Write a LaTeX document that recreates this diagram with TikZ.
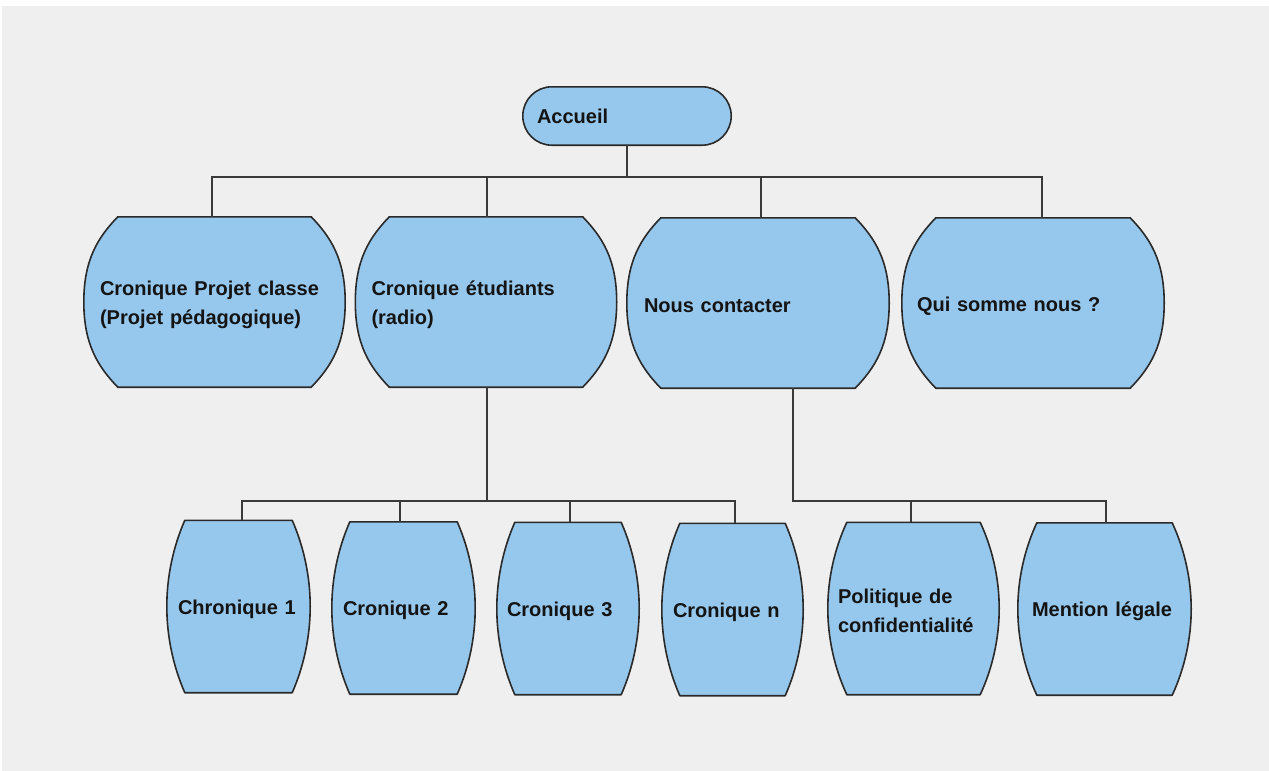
\documentclass[tikz,border=0pt]{standalone}
\usepackage{fontspec}
\setmainfont{Liberation Sans}
\usetikzlibrary{calc}
\pgfdeclarelayer{background}
\pgfsetlayers{background,main}
\definecolor{bgray}{HTML}{EFEFEF}
\definecolor{boxfill}{HTML}{96C7EC}
\definecolor{boxline}{HTML}{2A2A2A}
\definecolor{linkcol}{HTML}{3A3A3A}
\definecolor{txtcol}{HTML}{141414}
\newcommand{\lowstrut}{\rule{0pt}{20pt}}
\begin{document}
\begin{tikzpicture}[x=1pt,y=-1pt,
  lbl/.style={inner ysep=0pt, align=left, font=\bfseries\fontsize{20}{29}\selectfont, text=txtcol},
  bigbox/.style={lbl, inner xsep=16pt, text width=229pt, minimum height=170pt},
  smallbox/.style={lbl, inner xsep=11pt, minimum height=172pt},
  link/.style={draw=linkcol, line width=1.6pt},
  barrelline/.style={fill=boxfill, draw=boxline, line width=1.6pt, line join=round}
]
\useasboundingbox (0,0) rectangle (1269,771);
% nodes
\node[lbl, inner xsep=14pt, text width=180pt, minimum height=58pt] (acc) at (627,116) {Accueil};
\node[bigbox] (pa) at (214.5,302) {\lowstrut Cronique Projet classe\\(Projet pédagogique)};
\node[bigbox] (pb) at (486,302) {\lowstrut Cronique étudiants\\(radio)};
\node[bigbox, inner xsep=17pt, text width=228pt] (pc) at (758,303) {\lowstrut Nous contacter};
\node[bigbox, inner xsep=15pt, text width=232pt] (pd) at (1033,303) {\lowstrut Qui somme nous ?};
\node[smallbox, text width=121pt] (c1) at (238.5,606.5) {\lowstrut Chronique 1};
\node[smallbox, text width=121pt] (c2) at (403.5,608) {\lowstrut Cronique 2};
\node[smallbox, inner xsep=10pt, text width=122pt] (c3) at (568,608.5) {\lowstrut Cronique 3};
\node[smallbox, text width=119pt] (c4) at (732.5,609.5) {\lowstrut Cronique n};
\node[smallbox, inner xsep=10pt, text width=151pt] (pol) at (913.5,608.5) {\lowstrut Politique de\\confidentialité};
\node[smallbox, inner xsep=14pt, text width=145pt] (ml) at (1104.5,609) {\lowstrut Mention légale};
% shapes behind
\begin{pgfonlayer}{background}
\fill[white] (0,0) rectangle (1269,771);
\fill[bgray] (2,6) rectangle (1269,771);
\path[barrelline, rounded corners=29pt] (acc.north west) rectangle (acc.south east);
\foreach \nm/\dd/\uu/\pp/\qq in {pa/34pt/0.58/0.12/0.25,pb/34pt/0.58/0.12/0.25,pc/34pt/0.58/0.12/0.25,pd/34pt/0.58/0.12/0.25,
    c1/18pt/0.66/0.157/0.33,c2/18pt/0.66/0.157/0.33,c3/18pt/0.66/0.157/0.33,c4/18pt/0.66/0.157/0.33,pol/19pt/0.66/0.157/0.33,ml/19pt/0.66/0.157/0.33}{
  \path[barrelline] let \p1=(\nm.north west), \p2=(\nm.south east), \n1={\y1-\y2}, \n2={(\y1+\y2)/2} in
    (\x1+\dd,\y1) -- (\x2-\dd,\y1)
    .. controls (\x2-\dd+\uu*\dd,\y1-\pp*\n1) and (\x2,\y1-\qq*\n1) .. (\x2,\n2)
    .. controls (\x2,\y2+\qq*\n1) and (\x2-\dd+\uu*\dd,\y2+\pp*\n1) .. (\x2-\dd,\y2)
    -- (\x1+\dd,\y2)
    .. controls (\x1+\dd-\uu*\dd,\y2+\pp*\n1) and (\x1,\y2+\qq*\n1) .. (\x1,\n2)
    .. controls (\x1,\y1-\qq*\n1) and (\x1+\dd-\uu*\dd,\y1-\pp*\n1) .. (\x1+\dd,\y1) -- cycle;
}
\end{pgfonlayer}
% connectors
\coordinate (ja) at (212,177);
\coordinate (jb) at (487,177);
\coordinate (jc) at (761,177);
\coordinate (jd) at (1042,177);
\draw[link] (acc.south) -- (acc.south |- ja);
\draw[link] (pa.north -| ja) -- (ja) -- (jd) -- (pd.north -| jd);
\draw[link] (pb.north -| jb) -- (jb);
\draw[link] (pc.north -| jc) -- (jc);
\coordinate (kb) at (487,501);
\coordinate (k1) at (242,501);
\coordinate (k2) at (400,501);
\coordinate (k3) at (570,501);
\coordinate (k4) at (735,501);
\draw[link] (pb.south -| kb) -- (kb);
\draw[link] (c1.north -| k1) -- (k1) -- (k4) -- (c4.north -| k4);
\draw[link] (c2.north -| k2) -- (k2);
\draw[link] (c3.north -| k3) -- (k3);
\coordinate (kc) at (793,501);
\coordinate (k5) at (911,501);
\coordinate (k6) at (1106,501);
\draw[link] (pc.south -| kc) -- (kc) -- (k6) -- (ml.north -| k6);
\draw[link] (pol.north -| k5) -- (k5);
\end{tikzpicture}
\end{document}
